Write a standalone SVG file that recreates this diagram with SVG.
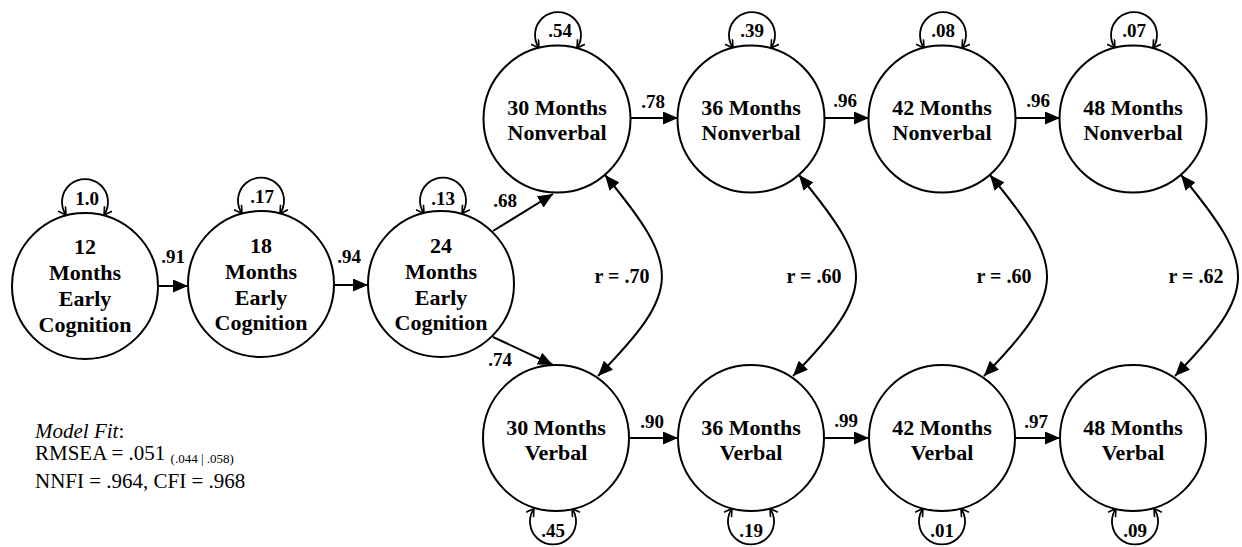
<svg xmlns="http://www.w3.org/2000/svg" width="1242" height="547" viewBox="0 0 1242 547">
<style>
.node{fill:#fff;stroke:#000;stroke-width:2}
.nt{font-family:"Liberation Serif","Times New Roman",serif;font-weight:bold;font-size:22px;text-anchor:middle;fill:#000}
.lb{font-family:"Liberation Serif","Times New Roman",serif;font-weight:bold;font-size:19px;text-anchor:middle;fill:#000}
.rl{font-family:"Liberation Serif","Times New Roman",serif;font-weight:bold;font-size:20px;text-anchor:middle;fill:#000}
.fit{font-family:"Liberation Serif","Times New Roman",serif;font-size:21px;fill:#000}
.arr{fill:none;stroke:#000;stroke-width:2;marker-end:url(#ah)}
.cov{fill:none;stroke:#000;stroke-width:2;marker-start:url(#ah);marker-end:url(#ah)}
.loop{fill:none;stroke:#000;stroke-width:1.8;marker-start:url(#oh);marker-end:url(#oh)}
</style>
<defs>
<marker id="ah" markerUnits="userSpaceOnUse" markerWidth="16" markerHeight="14" refX="15" refY="6.5" orient="auto-start-reverse"><path d="M0,0 L15,6.5 L0,13 z" fill="#000"/></marker>
<marker id="oh" markerUnits="userSpaceOnUse" markerWidth="12" markerHeight="12" refX="8" refY="5" orient="auto-start-reverse"><path d="M0.5,0.5 L8,5 L0.5,9.5" fill="none" stroke="#000" stroke-width="1.6"/></marker>
</defs>
<rect width="1242" height="547" fill="#fff"/>

<g id="connectors">
<path class="arr" d="M158,286 L188,286"/>
<path class="arr" d="M334,285 L368,285"/>
<path class="arr" d="M493,231 L553,194"/>
<path class="arr" d="M493,337 L553,365"/>
<path class="arr" d="M631,118 L678,118"/>
<path class="arr" d="M825,118 L869,118"/>
<path class="arr" d="M1016,118 L1060,118"/>
<path class="arr" d="M629,438 L678,438"/>
<path class="arr" d="M824,438 L869,438"/>
<path class="arr" d="M1015,438 L1060,438"/>
<path class="cov" d="M605,175 C682,268 682,290 598,376"/>
<path class="cov" d="M799,175 C876,268 876,290 793,376"/>
<path class="cov" d="M990,175 C1067,268 1067,290 984,376"/>
<path class="cov" d="M1181,175 C1258,268 1258,290 1175,376"/>
<path class="loop" d="M66,215 A23,23 0 1 1 104,215"/>
<path class="loop" d="M242,213.5 A23,23 0 1 1 280,213.5"/>
<path class="loop" d="M424,213.5 A23,23 0 1 1 462,213.5"/>
<path class="loop" d="M539,48 A23,23 0 1 1 577,48"/>
<path class="loop" d="M733,48 A23,23 0 1 1 771,48"/>
<path class="loop" d="M924,48 A23,23 0 1 1 962,48"/>
<path class="loop" d="M1115,48 A23,23 0 1 1 1153,48"/>
<path class="loop" d="M534,508.5 A23,23 0 1 0 572,508.5"/>
<path class="loop" d="M732,508.5 A23,23 0 1 0 770,508.5"/>
<path class="loop" d="M923,508.5 A23,23 0 1 0 961,508.5"/>
<path class="loop" d="M1116,508.5 A23,23 0 1 0 1154,508.5"/>
<text class="lb" x="173" y="263">.91</text>
<text class="lb" x="349" y="263">.94</text>
<text class="lb" x="505" y="207">.68</text>
<text class="lb" x="500" y="366">.74</text>
<text class="lb" x="653" y="108">.78</text>
<text class="lb" x="845" y="107">.96</text>
<text class="lb" x="1038" y="107">.96</text>
<text class="lb" x="652" y="428">.90</text>
<text class="lb" x="846" y="427">.99</text>
<text class="lb" x="1036" y="428">.97</text>
<text class="rl" x="622" y="283">r = .70</text>
<text class="rl" x="814" y="283">r = .60</text>
<text class="rl" x="1004" y="283">r = .60</text>
<text class="rl" x="1196" y="283">r = .62</text>
<text class="lb" x="87" y="205">1.0</text>
<text class="lb" x="262" y="203">.17</text>
<text class="lb" x="443" y="205">.13</text>
<text class="lb" x="560" y="37">.54</text>
<text class="lb" x="752" y="37">.39</text>
<text class="lb" x="943" y="37">.08</text>
<text class="lb" x="1134" y="37">.07</text>
<text class="lb" x="553" y="537">.45</text>
<text class="lb" x="751" y="537">.19</text>
<text class="lb" x="942" y="537">.01</text>
<text class="lb" x="1135" y="537">.09</text>
</g>

<g id="n12"><circle class="node" cx="85" cy="286" r="73"/>
<text class="nt" x="85" y="254">12</text><text class="nt" x="85" y="280">Months</text><text class="nt" x="85" y="306">Early</text><text class="nt" x="85" y="332">Cognition</text></g>
<g id="n18"><circle class="node" cx="261" cy="284" r="73"/>
<text class="nt" x="261" y="253">18</text><text class="nt" x="261" y="279">Months</text><text class="nt" x="261" y="305">Early</text><text class="nt" x="261" y="330">Cognition</text></g>
<g id="n24"><circle class="node" cx="441" cy="284" r="73"/>
<text class="nt" x="441" y="253">24</text><text class="nt" x="441" y="279">Months</text><text class="nt" x="441" y="305">Early</text><text class="nt" x="441" y="330">Cognition</text></g>

<g id="nv30"><circle class="node" cx="557" cy="119" r="73.5"/>
<text class="nt" x="557" y="115">30 Months</text><text class="nt" x="557" y="140">Nonverbal</text></g>
<g id="nv36"><circle class="node" cx="751" cy="119" r="73.5"/>
<text class="nt" x="751" y="115">36 Months</text><text class="nt" x="751" y="140">Nonverbal</text></g>
<g id="nv42"><circle class="node" cx="942" cy="119" r="73.5"/>
<text class="nt" x="942" y="115">42 Months</text><text class="nt" x="942" y="140">Nonverbal</text></g>
<g id="nv48"><circle class="node" cx="1133" cy="119" r="73.5"/>
<text class="nt" x="1133" y="115">48 Months</text><text class="nt" x="1133" y="140">Nonverbal</text></g>

<g id="v30"><circle class="node" cx="556" cy="438" r="73"/>
<text class="nt" x="556" y="435">30 Months</text><text class="nt" x="556" y="460">Verbal</text></g>
<g id="v36"><circle class="node" cx="751" cy="438" r="73"/>
<text class="nt" x="751" y="435">36 Months</text><text class="nt" x="751" y="460">Verbal</text></g>
<g id="v42"><circle class="node" cx="942" cy="438" r="73"/>
<text class="nt" x="942" y="435">42 Months</text><text class="nt" x="942" y="460">Verbal</text></g>
<g id="v48"><circle class="node" cx="1133" cy="438" r="73"/>
<text class="nt" x="1133" y="435">48 Months</text><text class="nt" x="1133" y="460">Verbal</text></g>

<g id="fit">
<text class="fit" x="35" y="438"><tspan font-style="italic">Model Fit</tspan>:</text>
<text class="fit" x="35" y="460">RMSEA = .051 <tspan font-size="13" dy="3">(.044 | .058)</tspan></text>
<text class="fit" x="35" y="488">NNFI = .964, CFI = .968</text>
</g>
</svg>
